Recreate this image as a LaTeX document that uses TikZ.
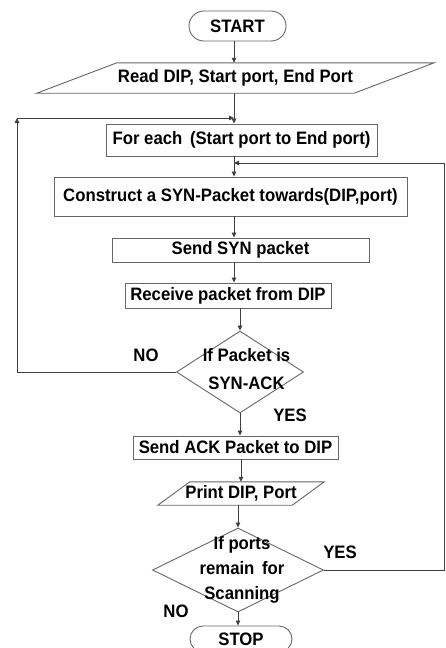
\documentclass[tikz,border=0pt]{standalone}
\usepackage{fontspec}
\setmainfont{Liberation Sans}[FakeStretch=0.93]
\usetikzlibrary{shapes.geometric,arrows.meta,calc}
\begin{document}
\begin{tikzpicture}[x=1pt,y=-1pt,
  font=\fontsize{18}{20}\selectfont\bfseries,
  boxline/.style={draw=black!60, line width=0.9pt},
  box/.style={boxline, inner sep=0pt, rectangle},
  plain/.style={inner sep=0pt, rectangle},
  dia/.style={boxline, diamond, inner sep=0pt},
  conn/.style={draw=black!75, line width=0.8pt},
  arr/.style={conn, -{Triangle[length=5pt,width=4.5pt]}},
  lbl/.style={inner sep=0pt}]
\useasboundingbox (0,0) rectangle (445,648);
\coordinate (sp) at (234,0);
\coordinate (sr) at (241,0);
\coordinate (j1) at (234,118);
\coordinate (j2) at (234,163);
\coordinate (lc) at (17,118);
\coordinate (rc) at (444,163);

\node[box, rounded corners=15pt, minimum width=97pt, minimum height=30pt] (start) at (237.5,26) {START};
\node[plain, minimum width=317pt, minimum height=30pt] (read) at (235.5,78) {Read DIP, Start port, End Port};
\draw[boxline] ($(read.north west)+(40,0)$) -- ($(read.north east)+(40,0)$) -- ($(read.south east)+(-40,0)$) -- ($(read.south west)+(-40,0)$) -- cycle;
\node[box, minimum width=271pt, minimum height=32pt] (foreach) at (241.5,140) {For each \,(Start port to End port)};
\node[box, minimum width=353pt, minimum height=39pt] (construct) at (230.5,196.5) {Construct a SYN-Packet towards(DIP,port)};
\node[box, minimum width=257pt, minimum height=24pt] (sendsyn) at (240.5,250) {Send SYN packet};
\node[box, minimum width=206pt, minimum height=25pt] (receive) at (228,295.5) {Receive packet from DIP};
\node[dia, minimum width=127pt, minimum height=82pt] (d1) at (240,372) {};
\node[lbl, align=center, font=\fontsize{18}{28}\selectfont\bfseries] (d1t) at (246.5,369) {If Packet is\\SYN-ACK};
\node[box, minimum width=205pt, minimum height=23pt] (sendack) at (235.5,447.5) {Send ACK Packet to DIP};
\node[plain, minimum width=134pt, minimum height=23pt] (print) at (241,493.5) {Print DIP, Port};
\draw[boxline] ($(print.north west)+(16,0)$) -- ($(print.north east)+(16,0)$) -- ($(print.south east)+(-16,0)$) -- ($(print.south west)+(-16,0)$) -- cycle;
\node[dia, minimum width=171pt, minimum height=84pt] (d2) at (238,570) {};
\node[lbl, align=center, font=\fontsize{18}{25}\selectfont\bfseries] (d2t) at (242,570) {If ports\\remain \,for\\Scanning};
\node[box, rounded corners=13pt, minimum width=102pt, minimum height=26pt] (stop) at (241,639) {STOP};

\node[lbl] (no1) at (146,355) {NO};
\node[lbl] (yes1) at (290,415) {YES};
\node[lbl] (yes2) at (340,552) {YES};
\node[lbl] (no2) at (176,611) {NO};

\draw[arr] (start.south -| sp) -- (read.north -| sp);
\draw[arr] (read.south -| sp) -- (foreach.north -| sp);
\draw[arr] (foreach.south -| sp) -- (construct.north -| sp);
\draw[arr] (construct.south -| sp) -- (sendsyn.north -| sp);
\draw[arr] (sendsyn.south -| sp) -- (receive.north -| sp);
\draw[arr] (receive.south -| d1.north) -- (d1.north);
\draw[arr] (d1.south) -- (sendack.north -| d1.south);
\draw[arr] (sendack.south -| sr) -- (print.north -| sr);
\draw[arr] (print.south -| d2.north) -- (d2.north);
\draw[arr] (d2.south) -- (stop.north -| d2.south);
\draw[arr] (d1.west) -| (lc);
\draw[arr] (lc) -- (j1);
\draw[conn] (d2.east) -| (rc);
\draw[arr] (rc) -- (j2);
\end{tikzpicture}
\end{document}
